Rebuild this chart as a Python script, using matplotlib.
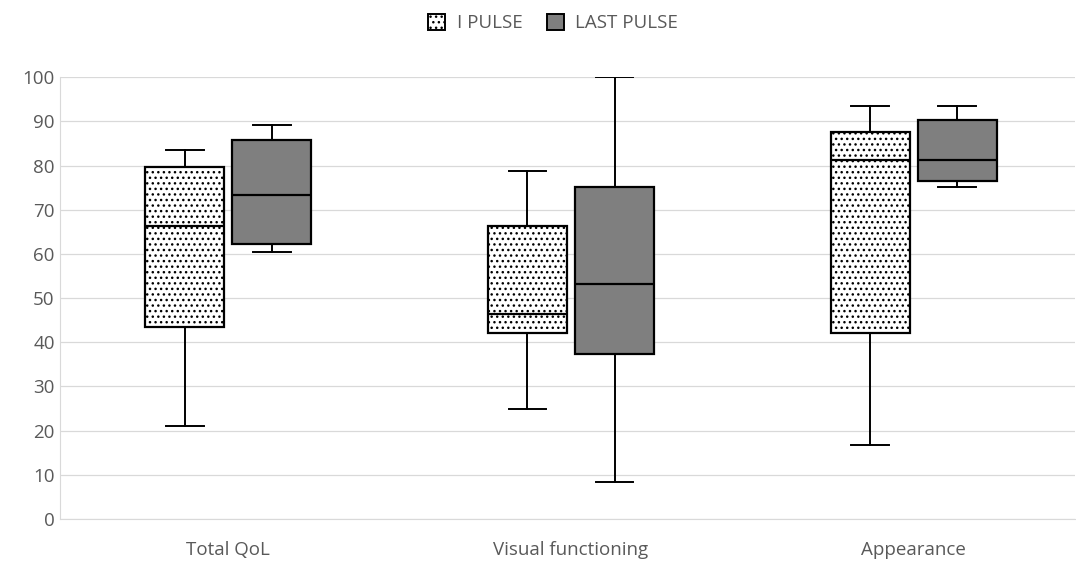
import matplotlib.pyplot as plt
from matplotlib.patches import Patch

categories = ["Total QoL", "Visual functioning", "Appearance"]
series = ["I PULSE", "LAST PULSE"]

# whislo, q1, median, q3, whishi
first_pulse = [
    [21.0, 43.4, 66.3, 79.6, 83.5],
    [25.0, 42.1, 46.5, 66.3, 78.7],
    [16.7, 42.1, 81.2, 87.5, 93.5],
]
last_pulse = [
    [60.5, 62.3, 73.3, 85.7, 89.1],
    [8.3, 37.3, 53.1, 75.2, 100.0],
    [75.2, 76.4, 81.2, 90.4, 93.5],
]

plt.rcParams['font.family'] = ['Open Sans', 'DejaVu Sans']
plt.rcParams['hatch.linewidth'] = 1.0

fig = plt.figure(figsize=(10.76, 5.63), dpi=100)
ax = fig.add_axes([0.056, 0.078, 0.943, 0.785])


def to_stats(rows):
    return [dict(whislo=r[0], q1=r[1], med=r[2], q3=r[3], whishi=r[4], fliers=[])
            for r in rows]


box_w = 0.23
offset = 0.127
faces = ["white", "#7f7f7f"]
hatches = ["...", None]

for i, data in enumerate([first_pulse, last_pulse]):
    pos = [k + (-offset if i == 0 else offset) for k in range(len(categories))]
    bp = ax.bxp(to_stats(data), positions=pos, widths=box_w, patch_artist=True,
                showfliers=False,
                boxprops=dict(linewidth=1.6, edgecolor="black"),
                medianprops=dict(color="black", linewidth=1.6),
                whiskerprops=dict(color="black", linewidth=1.4),
                capprops=dict(color="black", linewidth=1.4),
                capwidths=0.11)
    for b in bp["boxes"]:
        b.set_facecolor(faces[i])
        b.set_hatch(hatches[i])
        b.set_zorder(3)
    for m in bp["medians"]:
        m.set_zorder(4)

ax.set_xlim(-0.49, 2.47)
ax.set_ylim(0, 100)
ax.set_yticks(range(0, 101, 10))
ax.set_xticks(range(len(categories)))
ax.set_xticklabels(categories)
ax.tick_params(axis="both", colors="#595959", labelsize=13.5, length=0)
ax.tick_params(axis="x", pad=16)
ax.tick_params(axis="y", pad=4)
ax.grid(axis="y", color="#d9d9d9", linewidth=0.9, zorder=0)
ax.set_axisbelow(True)
for s in ["top", "right"]:
    ax.spines[s].set_visible(False)
ax.spines["left"].set_color("#d9d9d9")
ax.spines["bottom"].set_color("#d9d9d9")

handles = [
    Patch(facecolor="white", edgecolor="black", hatch="...", linewidth=1.4),
    Patch(facecolor="#7f7f7f", edgecolor="black", linewidth=1.4),
]
fig.legend(handles, series, loc="upper center", bbox_to_anchor=(0.514, 1.005),
           ncol=2, frameon=False, fontsize=13.5, labelcolor="#595959",
           handlelength=0.9, handleheight=0.9, columnspacing=1.3, handletextpad=0.6)

fig.savefig("out.png", dpi=100)
